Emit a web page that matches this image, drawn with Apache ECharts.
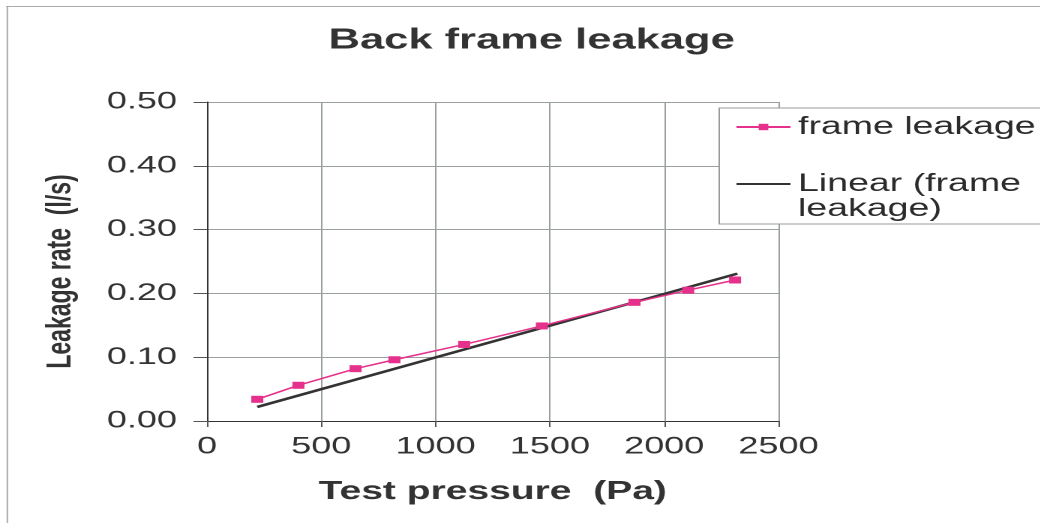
<!DOCTYPE html>
<html>
<head>
<meta charset="utf-8">
<script src="https://cdn.jsdelivr.net/npm/echarts@6/dist/echarts.min.js"></script>
<style>
  html, body { margin: 0; padding: 0; background: #fff; overflow: hidden; }
  #chart { width: 693.333px; height: 523px; transform: scaleX(1.5); transform-origin: 0 0; }
</style>
</head>
<body>
<div id="chart"></div>
<script>
// Data
const pressure = [220, 400, 650, 820, 1125, 1465, 1870, 2105, 2310];
const leakage = [0.034, 0.056, 0.082, 0.096, 0.120, 0.149, 0.186, 0.205, 0.221];
const trendPressure = [220, 2320];
const trendLeakage = [0.022, 0.231];
const seriesNames = ['frame leakage', 'Linear (frame leakage)'];

const FONT = 'Liberation Sans, Arial, sans-serif';
const chart = echarts.init(document.getElementById('chart'), null, { devicePixelRatio: 2 });

chart.setOption({
  backgroundColor: '#ffffff',
  animation: false,
  title: {
    text: 'Back frame leakage',
    left: 219, top: 26, padding: 0,
    textStyle: { fontFamily: FONT, fontSize: 29, fontWeight: 'bold', color: '#333333' }
  },
  graphic: [
    { type: 'line', z: 1, shape: { x1: 4.9, y1: 6.5, x2: 4.9, y2: 523 }, style: { stroke: '#aaaaaa', lineWidth: 1 } },
    { type: 'line', z: 1, shape: { x1: 4, y1: 6.5, x2: 700, y2: 6.5 }, style: { stroke: '#aaaaaa', lineWidth: 1 } },
    { type: 'rect', z: 3, shape: { x: 479.5, y: 108, width: 240, height: 116 },
      style: { fill: '#ffffff', stroke: '#9a9a9a', lineWidth: 1 } }
  ],
  legend: {
    orient: 'vertical', left: 490, top: 114.5, padding: 0, z: 4,
    itemWidth: 36, itemHeight: 8, itemGap: 7,
    textStyle: { fontFamily: FONT, fontSize: 25, color: '#2b2b2b', lineHeight: 25,
      rich: { s: { fontSize: 25, lineHeight: 25 } } },
    data: [
      { name: seriesNames[0] },
      { name: seriesNames[1], itemStyle: { opacity: 0 } }
    ],
    formatter: function (n) { return n === seriesNames[1] ? '{s| }\nLinear (frame\nleakage)' : n; }
  },
  grid: { left: 138, right: 174, top: 102, bottom: 102, containLabel: false },
  xAxis: {
    type: 'value', min: 0, max: 2500, interval: 500,
    name: 'Test pressure  (Pa)', nameLocation: 'middle', nameGap: 58,
    nameTextStyle: { fontFamily: FONT, fontSize: 26, fontWeight: 'bold', color: '#333333' },
    axisLine: { show: true, lineStyle: { color: '#333333', width: 1 } },
    axisTick: { show: true, length: 6, lineStyle: { color: '#555555' } },
    axisLabel: { margin: 14, fontFamily: FONT, fontSize: 24, color: '#333333',
      formatter: function (v) { return String(v); } },
    splitLine: { show: true, lineStyle: { color: '#9aa0a0', width: 1 } }
  },
  yAxis: {
    type: 'value', min: 0, max: 0.5, interval: 0.1,
    name: 'Leakage rate  (l/s)', nameLocation: 'middle', nameGap: 86, nameRotate: 90,
    nameTextStyle: { fontFamily: FONT, fontSize: 23, fontWeight: 'bold', color: '#333333', padding: [0, 20, 0, 0] },
    axisLine: { show: true, lineStyle: { color: '#333333', width: 1 } },
    axisTick: { show: true, length: 9, lineStyle: { color: '#555555' } },
    axisLabel: { margin: 20, fontFamily: FONT, fontSize: 24, color: '#333333',
      formatter: function (v) { return v.toFixed(2); } },
    splitLine: { show: true, lineStyle: { color: '#9aa0a0', width: 1 } }
  },
  series: [
    {
      name: seriesNames[0], type: 'line', z: 3,
      data: pressure.map(function (p, i) { return [p, leakage[i]]; }),
      symbol: 'rect', symbolSize: [8, 7],
      itemStyle: { color: '#e5318b' },
      lineStyle: { color: '#e5318b', width: 1.5 }
    },
    {
      name: seriesNames[1], type: 'line', z: 2,
      data: trendPressure.map(function (p, i) { return [p, trendLeakage[i]]; }),
      symbol: 'none',
      itemStyle: { color: '#333333' },
      lineStyle: { color: '#333333', width: 2.5 }
    }
  ]
});
</script>
</body>
</html>
